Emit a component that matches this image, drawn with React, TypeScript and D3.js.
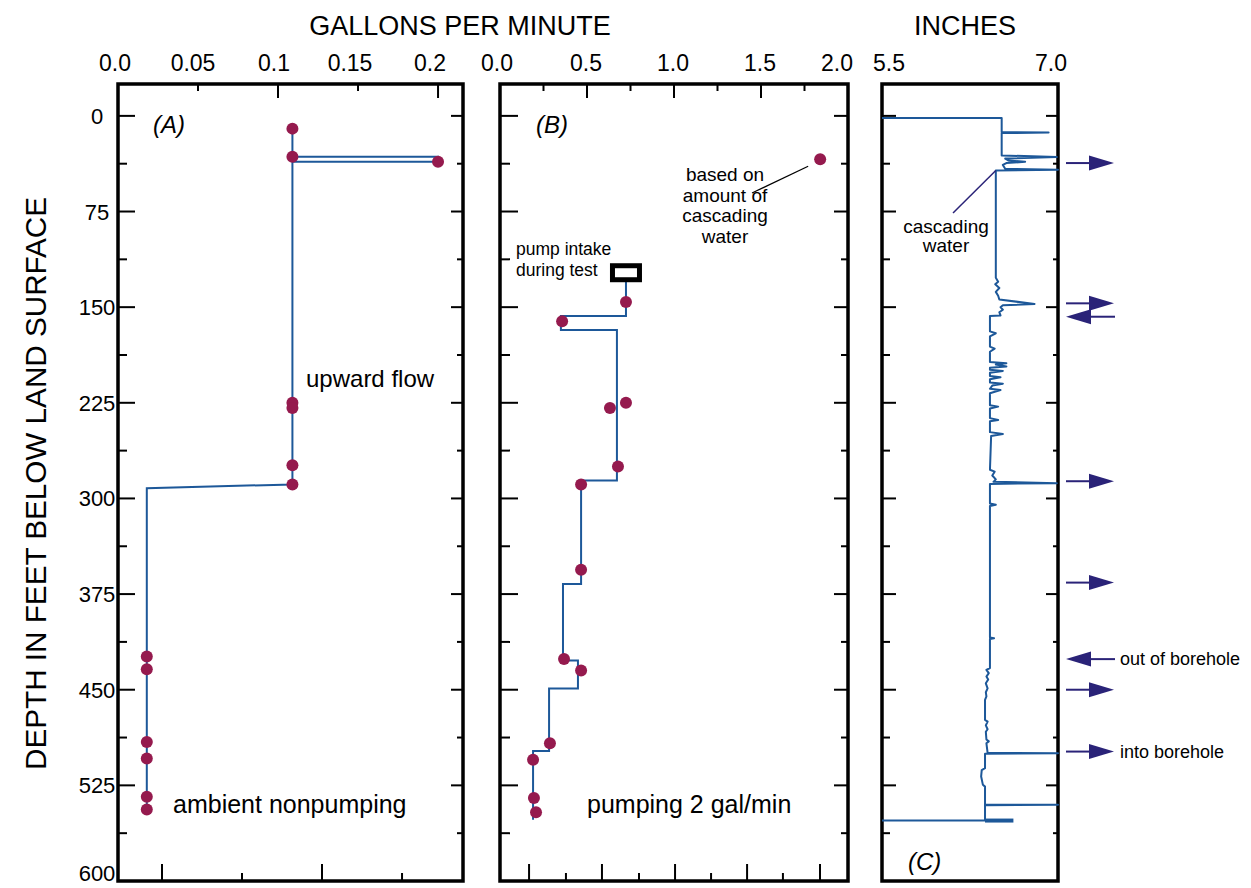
import React from "react";
import * as d3 from "d3";

// ---------- DATA ----------
const depthLabels = [0, 75, 150, 225, 300, 375, 450, 525, 600];
const depthMinor = [37.5, 112.5, 187.5, 262.5, 337.5, 412.5, 487.5, 562.5];

const flowTicksA = [0, 0.05, 0.1, 0.15, 0.2];
const flowLabelsA = ["0.0", "0.05", "0.1", "0.15", "0.2"];
const flowTicksB = [0, 0.5, 1.0, 1.5, 2.0];
const flowLabelsB = ["0.0", "0.5", "1.0", "1.5", "2.0"];
const inchTicks = [5.5, 7.0];
const inchLabels = ["5.5", "7.0"];

const topTicksA = [0.05, 0.1, 0.15, 0.2];
const topTicksB = [0.25, 0.5, 0.75, 1.0, 1.25, 1.5, 1.75];
const bottomTicksA = [0.0275, 0.0775, 0.1275, 0.1775];
const bottomTicksB = [0.167, 0.379, 0.586, 0.799, 1.006, 1.213, 1.42, 1.626, 1.839];

// (A) ambient nonpumping
const ambientDepth = [10, 32, 36, 225, 229, 274, 289, 424, 434, 491, 504, 534, 544];
const ambientFlow = [0.109, 0.109, 0.2, 0.109, 0.109, 0.109, 0.109, 0.018, 0.018, 0.018, 0.018, 0.018, 0.018];
const ambientProfile: [number, number][] = [
  [0.109, 10], [0.109, 32], [0.2, 32], [0.2, 36], [0.109, 36], [0.109, 289],
  [0.018, 292], [0.018, 545],
];

// (B) pumping 2 gal/min
const pumpingDepth = [146, 161, 229, 225, 275, 289, 356, 426, 435, 492, 505, 535, 546];
const pumpingFlow = [0.724, 0.357, 0.632, 0.724, 0.678, 0.466, 0.466, 0.368, 0.466, 0.287, 0.19, 0.195, 0.207];
const pumpingProfile: [number, number][] = [
  [0.724, 127], [0.724, 157], [0.35, 157], [0.35, 168], [0.672, 168], [0.672, 286],
  [0.466, 286], [0.466, 367], [0.362, 367], [0.362, 427], [0.448, 427], [0.448, 449],
  [0.282, 449], [0.282, 498], [0.19, 498], [0.19, 552],
];
const cascadeFlow = 1.84;
const cascadeDepth = 34;
const pumpIntakeFlow = 0.724;
const pumpIntakeDepth = 123;

// (C) caliper log [depth, inches]
const caliperLog: [number, number][] = [
  [1.6, 5.5], [1.6, 6.52], [12.6, 6.52], [13.1, 6.92], [13.5, 6.52], [31, 6.52], [32.3, 6.99],
  [33.5, 6.55], [35, 6.58], [36, 6.72], [37, 6.56], [38.5, 6.53], [41.5, 6.55], [42.3, 7.0],
  [42.8, 6.47], [127, 6.47], [130, 6.49], [132, 6.465], [135, 6.5], [138, 6.47], [141, 6.49],
  [144, 6.5], [147.5, 6.8], [148.5, 6.53], [150, 6.51], [152, 6.53], [154, 6.5], [156.5, 6.51],
  [157, 6.42], [169, 6.42], [170.5, 6.47], [173, 6.42], [181, 6.42], [182.5, 6.46], [185, 6.42],
  [193, 6.42], [194, 6.56], [195, 6.47], [196.5, 6.56], [197.5, 6.42], [199, 6.42], [200, 6.53],
  [201.5, 6.42], [204, 6.42], [205, 6.51], [206.5, 6.42], [209, 6.42], [210, 6.53], [211.5, 6.44],
  [214, 6.42], [215, 6.51], [217.5, 6.42], [227, 6.42], [228, 6.49], [229.5, 6.42], [237, 6.42],
  [238.5, 6.49], [239.5, 6.42], [248, 6.42], [249.5, 6.53], [251, 6.43], [277.5, 6.42],
  [279, 6.46], [282, 6.44], [285, 6.47], [287, 6.45], [288, 6.99], [288.6, 6.42], [304, 6.42],
  [305, 6.47], [306, 6.42], [409, 6.42], [409.6, 6.455], [410.3, 6.42], [433, 6.42],
  [434.5, 6.39], [437, 6.41], [439.7, 6.39], [442, 6.405], [445, 6.385], [449, 6.4],
  [452, 6.385], [455.3, 6.39], [458, 6.378], [473.6, 6.378], [475, 6.4], [478, 6.385],
  [481, 6.4], [483, 6.385], [489, 6.39], [490.5, 6.41], [492, 6.39], [499.5, 6.4], [499.8, 7.0],
  [500.3, 6.378], [511.5, 6.378], [513, 6.35], [518, 6.345], [524.6, 6.36], [526, 6.378],
  [540.3, 6.378], [540.3, 7.0], [540.6, 6.378], [552.6, 6.378], [552.6, 5.5],
];
const caliperBottomStub: [number, number][] = [[552.6, 6.378], [552.6, 6.62]];

const arrowDepths = [37, 147, 157.5, 286.5, 366, 426, 450, 498.5];
const arrowDirections = ["right", "right", "left", "right", "right", "left", "right", "right"];
const arrowTexts = ["", "", "", "", "", "out of borehole", "", "into borehole"];

// ---------- STYLE ----------
const FONT = "'Liberation Sans', Arial, Helvetica, sans-serif";
const LINE = "#1d5899";
const DOT = "#951a4e";
const NAVY = "#2a2378";
const W = 1251;
const H = 888;

const y = d3.scaleLinear().domain([-25, 600]).range([84, 881]);
const xA = d3.scaleLinear().domain([0, 0.2156]).range([118, 463]);
const xB = d3.scaleLinear().domain([0, 2]).range([500, 848]);
const xC = d3.scaleLinear().domain([5.5, 7.0]).range([882, 1058]);

const shiftA = [-3, -5, -4, -8, -8];
const shiftB = [-3, -1, -1, -1, -11];
const shiftC = [7, -7];

type Scale = d3.ScaleLinear<number, number>;

function Frame({ x, leftMajor, leftMinor, rightMajor, rightMinor }: {
  x: Scale; leftMajor: number; leftMinor: number; rightMajor: number; rightMinor: number;
}) {
  const [x0, x1] = x.range();
  const [y0, y1] = y.range();
  return (
    <g>
      {depthLabels.filter((d) => d < 600).map((d) => (
        <g key={"M" + d}>
          <line x1={x0} x2={x0 + leftMajor} y1={y(d)} y2={y(d)} stroke="#000" strokeWidth={2} />
          <line x1={x1} x2={x1 - rightMajor} y1={y(d)} y2={y(d)} stroke="#000" strokeWidth={2} />
        </g>
      ))}
      {depthMinor.map((d) => (
        <g key={"m" + d}>
          <line x1={x0} x2={x0 + leftMinor} y1={y(d)} y2={y(d)} stroke="#000" strokeWidth={2} />
          <line x1={x1} x2={x1 - rightMinor} y1={y(d)} y2={y(d)} stroke="#000" strokeWidth={2} />
        </g>
      ))}
      <rect x={x0} y={y0} width={x1 - x0} height={y1 - y0} fill="none" stroke="#000" strokeWidth={3.5} />
    </g>
  );
}

export default function App() {
  const lineA = d3.line<[number, number]>().x((d) => xA(d[0])).y((d) => y(d[1]));
  const lineB = d3.line<[number, number]>().x((d) => xB(d[0])).y((d) => y(d[1]));
  const lineC = d3.line<[number, number]>().x((d) => xC(d[1])).y((d) => y(d[0]));
  const top = y.range()[0];
  const bottom = y.range()[1];

  return (
    <div style={{ position: "absolute", left: 0, top: 0 }}>
      <svg width={W} height={H} style={{ display: "block", fontFamily: FONT }}>
        <rect width={W} height={H} fill="#fff" />

        {/* Titles */}
        <text x={460} y={35} fontSize={27} textAnchor="middle">GALLONS PER MINUTE</text>
        <text x={965} y={35} fontSize={27} textAnchor="middle">INCHES</text>
        <text transform={`translate(46, ${(y(0) + y(600)) / 2 - 15}) rotate(-90)`} fontSize={29}
          textAnchor="middle" textLength={573} lengthAdjust="spacingAndGlyphs">
          DEPTH IN FEET BELOW LAND SURFACE
        </text>

        {/* Depth labels */}
        {depthLabels.map((d) => (
          <text key={d} x={97} y={Math.min(y(d) + 8, H - 7)} fontSize={22} textAnchor="middle">{d}</text>
        ))}

        {/* Top labels */}
        {flowTicksA.map((v, i) => (
          <text key={"la" + i} x={xA(v) + shiftA[i]} y={71} fontSize={23} textAnchor="middle">{flowLabelsA[i]}</text>
        ))}
        {flowTicksB.map((v, i) => (
          <text key={"lb" + i} x={xB(v) + shiftB[i]} y={71} fontSize={23} textAnchor="middle">{flowLabelsB[i]}</text>
        ))}
        {inchTicks.map((v, i) => (
          <text key={"lc" + i} x={xC(v) + shiftC[i]} y={71} fontSize={23} textAnchor="middle">{inchLabels[i]}</text>
        ))}

        {/* Panel A */}
        <Frame x={xA} leftMajor={17} leftMinor={9} rightMajor={12} rightMinor={6} />
        {topTicksA.map((v, i) => (
          <line key={"ta" + i} x1={xA(v)} x2={xA(v)} y1={top} y2={top + (i % 2 === 0 ? 7 : 14)} stroke="#000" strokeWidth={2} />
        ))}
        {bottomTicksA.map((v, i) => (
          <line key={"ba" + i} x1={xA(v)} x2={xA(v)} y1={bottom} y2={bottom - (i % 2 === 0 ? 17 : 8)} stroke="#000" strokeWidth={2} />
        ))}
        <path d={lineA(ambientProfile) || ""} fill="none" stroke={LINE} strokeWidth={2} />
        {ambientDepth.map((d, i) => (
          <circle key={"pa" + i} cx={xA(ambientFlow[i])} cy={y(d)} r={6} fill={DOT} />
        ))}
        <text x={153} y={y(0) + 17} fontSize={24} fontStyle="italic">(A)</text>
        <text x={306} y={y(206) + 8} fontSize={24}>upward flow</text>
        <text x={173} y={y(540) + 9} fontSize={25}>ambient nonpumping</text>

        {/* Panel B */}
        <Frame x={xB} leftMajor={18} leftMinor={10} rightMajor={14} rightMinor={7} />
        {topTicksB.map((v, i) => (
          <line key={"tb" + i} x1={xB(v)} x2={xB(v)} y1={top} y2={top + (i % 2 === 0 ? 7 : 14)} stroke="#000" strokeWidth={2} />
        ))}
        {bottomTicksB.map((v, i) => (
          <line key={"bb" + i} x1={xB(v)} x2={xB(v)} y1={bottom} y2={bottom - (i % 2 === 0 ? 17 : 8)} stroke="#000" strokeWidth={2} />
        ))}
        <path d={lineB(pumpingProfile) || ""} fill="none" stroke={LINE} strokeWidth={2} />
        {pumpingDepth.map((d, i) => (
          <circle key={"pb" + i} cx={xB(pumpingFlow[i])} cy={y(d)} r={6} fill={DOT} />
        ))}
        <circle cx={xB(cascadeFlow)} cy={y(cascadeDepth)} r={6} fill={DOT} />
        <line x1={752} y1={193} x2={xB(cascadeFlow) - 12} y2={y(cascadeDepth) + 7} stroke="#000" strokeWidth={1.2} />
        {["based on", "amount of", "cascading", "water"].map((t, i) => (
          <text key={t} x={725} y={181 + i * 20.5} fontSize={19} textAnchor="middle">{t}</text>
        ))}
        <rect x={xB(pumpIntakeFlow) - 13.5} y={y(pumpIntakeDepth) - 7} width={27} height={14} fill="#fff" stroke="#000" strokeWidth={5} />
        <text x={516} y={255} fontSize={17.5}>pump intake</text>
        <text x={516} y={276} fontSize={17.5}>during test</text>
        <text x={536} y={y(0) + 17} fontSize={24} fontStyle="italic">(B)</text>
        <text x={587} y={y(540) + 9} fontSize={25}>pumping 2 gal/min</text>

        {/* Panel C */}
        <Frame x={xC} leftMajor={14} leftMinor={8} rightMajor={12} rightMinor={5} />
        <path d={lineC(caliperLog) || ""} fill="none" stroke={LINE} strokeWidth={2} strokeLinejoin="round" />
        <path d={lineC(caliperBottomStub) || ""} fill="none" stroke={LINE} strokeWidth={4} />
        <line x1={xC(6.47)} y1={y(42.8)} x2={953} y2={213} stroke={NAVY} strokeWidth={1.5} />
        <text x={946} y={233} fontSize={19} textAnchor="middle">cascading</text>
        <text x={946} y={252} fontSize={19} textAnchor="middle">water</text>
        <text x={908} y={870} fontSize={24} fontStyle="italic">(C)</text>

        {/* Arrows */}
        {arrowDepths.map((d, i) => {
          const yy = y(d);
          const right = arrowDirections[i] === "right";
          return (
            <g key={"ar" + i}>
              {right ? (
                <>
                  <line x1={1066} x2={1092} y1={yy} y2={yy} stroke={NAVY} strokeWidth={2} />
                  <path d={`M1089,${yy - 7.5}L1114,${yy}L1089,${yy + 7.5}Z`} fill={NAVY} />
                </>
              ) : (
                <>
                  <line x1={1088} x2={1115} y1={yy} y2={yy} stroke={NAVY} strokeWidth={2} />
                  <path d={`M1091,${yy - 7.5}L1066,${yy}L1091,${yy + 7.5}Z`} fill={NAVY} />
                </>
              )}
              {arrowTexts[i] && (
                <text x={1120} y={yy + 6} fontSize={18}>{arrowTexts[i]}</text>
              )}
            </g>
          );
        })}
      </svg>
    </div>
  );
}
